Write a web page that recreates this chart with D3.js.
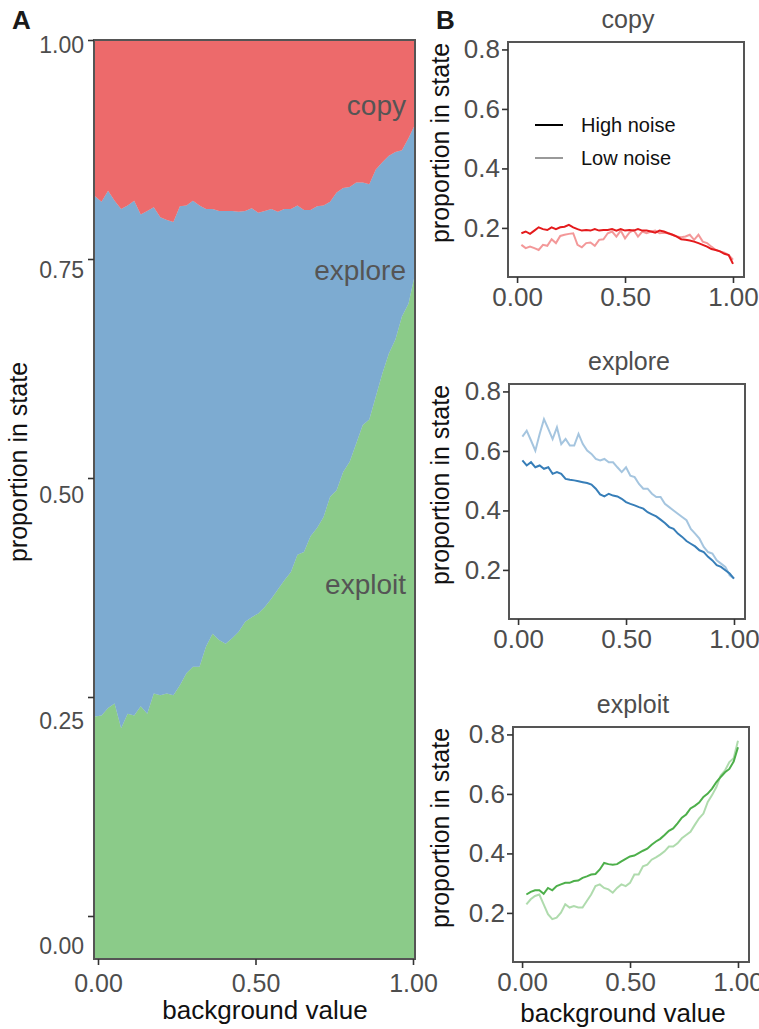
<!DOCTYPE html>
<html>
<head>
<meta charset="utf-8">
<script src="https://cdnjs.cloudflare.com/ajax/libs/d3/7.8.5/d3.min.js"></script>
<style>
    body { margin: 0; background: #fff; }
    svg { display: block; font-family: 'Liberation Sans', Arial, Helvetica, sans-serif; }
    .tick text { fill: #4d4d4d; }
    .tick line { stroke: #333; stroke-width: 1.6; }
</style>
</head>
<body>
<div class="visHolder"></div>
<script>
var bgValue = [0.02, 0.04, 0.06, 0.08, 0.10, 0.12, 0.14, 0.16, 0.18, 0.20,
    0.22, 0.24, 0.26, 0.28, 0.30, 0.32, 0.34, 0.36, 0.38, 0.40,
    0.42, 0.44, 0.46, 0.48, 0.50, 0.52, 0.54, 0.56, 0.58, 0.60,
    0.62, 0.64, 0.66, 0.68, 0.70, 0.72, 0.74, 0.76, 0.78, 0.80,
    0.82, 0.84, 0.86, 0.88, 0.90, 0.92, 0.94, 0.96, 0.98, 1.00];

// panel A: share of agents in each state
var fillCopy = [0.170, 0.176, 0.164, 0.175, 0.184, 0.180, 0.175, 0.190, 0.186, 0.182,
    0.193, 0.196, 0.198, 0.181, 0.180, 0.175, 0.180, 0.184, 0.184, 0.186,
    0.186, 0.186, 0.187, 0.186, 0.183, 0.188, 0.186, 0.184, 0.187, 0.184,
    0.184, 0.180, 0.185, 0.185, 0.181, 0.180, 0.176, 0.166, 0.161, 0.160,
    0.155, 0.155, 0.157, 0.141, 0.133, 0.126, 0.122, 0.120, 0.107, 0.092];
var fillExplore = [0.566, 0.559, 0.563, 0.547, 0.565, 0.553, 0.560, 0.535, 0.547, 0.529,
    0.520, 0.515, 0.515, 0.521, 0.509, 0.507, 0.502, 0.476, 0.462, 0.467,
    0.471, 0.465, 0.457, 0.447, 0.445, 0.436, 0.431, 0.424, 0.411, 0.404,
    0.395, 0.380, 0.372, 0.355, 0.350, 0.339, 0.321, 0.324, 0.309, 0.299,
    0.284, 0.264, 0.256, 0.247, 0.230, 0.215, 0.204, 0.181, 0.180, 0.163];
var fillExploit = [0.264, 0.265, 0.273, 0.278, 0.251, 0.267, 0.265, 0.275, 0.267, 0.289,
    0.287, 0.289, 0.287, 0.298, 0.311, 0.318, 0.318, 0.340, 0.354, 0.347,
    0.343, 0.349, 0.356, 0.367, 0.372, 0.376, 0.383, 0.392, 0.402, 0.412,
    0.421, 0.440, 0.443, 0.460, 0.469, 0.481, 0.503, 0.510, 0.530, 0.541,
    0.561, 0.581, 0.587, 0.612, 0.637, 0.659, 0.674, 0.699, 0.713, 0.745];

// panel B: high vs low noise
var highCopy = [0.182, 0.188, 0.180, 0.191, 0.202, 0.196, 0.193, 0.202, 0.196, 0.202,
    0.204, 0.210, 0.202, 0.196, 0.191, 0.193, 0.191, 0.196, 0.191, 0.193,
    0.193, 0.196, 0.191, 0.196, 0.191, 0.193, 0.191, 0.196, 0.191, 0.191,
    0.188, 0.184, 0.191, 0.188, 0.182, 0.177, 0.171, 0.162, 0.160, 0.158,
    0.154, 0.149, 0.143, 0.137, 0.129, 0.126, 0.121, 0.113, 0.109, 0.079];
var lowCopy = [0.143, 0.132, 0.137, 0.132, 0.126, 0.143, 0.140, 0.162, 0.149, 0.173,
    0.177, 0.180, 0.182, 0.143, 0.135, 0.149, 0.151, 0.140, 0.160, 0.162,
    0.182, 0.188, 0.171, 0.191, 0.165, 0.184, 0.193, 0.171, 0.188, 0.182,
    0.188, 0.191, 0.182, 0.184, 0.182, 0.177, 0.171, 0.169, 0.171, 0.177,
    0.160, 0.177, 0.154, 0.149, 0.137, 0.126, 0.121, 0.117, 0.109, 0.093];
var highExplore = [0.568, 0.551, 0.562, 0.545, 0.551, 0.540, 0.545, 0.523, 0.529, 0.523,
    0.506, 0.503, 0.501, 0.498, 0.495, 0.492, 0.487, 0.473, 0.454, 0.447,
    0.456, 0.450, 0.447, 0.439, 0.428, 0.422, 0.417, 0.411, 0.406, 0.394,
    0.387, 0.380, 0.369, 0.358, 0.344, 0.338, 0.322, 0.311, 0.297, 0.288,
    0.279, 0.266, 0.260, 0.244, 0.232, 0.216, 0.210, 0.199, 0.188, 0.171];
var lowExplore = [0.648, 0.668, 0.635, 0.601, 0.657, 0.707, 0.674, 0.640, 0.679, 0.623,
    0.640, 0.618, 0.618, 0.657, 0.623, 0.601, 0.590, 0.573, 0.568, 0.573,
    0.562, 0.562, 0.545, 0.529, 0.545, 0.517, 0.512, 0.489, 0.473, 0.473,
    0.456, 0.445, 0.445, 0.422, 0.411, 0.400, 0.389, 0.378, 0.367, 0.338,
    0.322, 0.305, 0.277, 0.260, 0.255, 0.232, 0.221, 0.210, 0.182, 0.171];
var highExploit = [0.262, 0.271, 0.276, 0.276, 0.264, 0.284, 0.276, 0.290, 0.296, 0.301,
    0.301, 0.307, 0.309, 0.318, 0.323, 0.329, 0.331, 0.346, 0.368, 0.364,
    0.362, 0.364, 0.373, 0.382, 0.390, 0.393, 0.401, 0.409, 0.416, 0.429,
    0.440, 0.449, 0.462, 0.476, 0.484, 0.501, 0.520, 0.531, 0.551, 0.560,
    0.571, 0.590, 0.601, 0.618, 0.640, 0.657, 0.673, 0.684, 0.709, 0.757];
var lowExploit = [0.229, 0.246, 0.257, 0.262, 0.229, 0.196, 0.179, 0.184, 0.201, 0.229,
    0.218, 0.223, 0.218, 0.218, 0.240, 0.262, 0.290, 0.296, 0.284, 0.279,
    0.268, 0.284, 0.296, 0.290, 0.301, 0.329, 0.329, 0.357, 0.362, 0.379,
    0.387, 0.396, 0.407, 0.423, 0.423, 0.434, 0.451, 0.462, 0.473, 0.496,
    0.518, 0.534, 0.573, 0.596, 0.623, 0.662, 0.679, 0.707, 0.720, 0.779];

var states = ['copy', 'explore', 'exploit'];
var noiseLevels = ['High noise', 'Low noise'];
var bgTicks = [0, 0.5, 1];
var fillTicks = [0, 0.25, 0.5, 0.75, 1];
var propTicks = [0.2, 0.4, 0.6, 0.8];

var width = 759,
    height = 1029;

var stateColor = {
    copy: d3.schemeSet1[0],
    explore: d3.schemeSet1[1],
    exploit: d3.schemeSet1[2]
};

var svg = d3
    .select('.visHolder')
    .append('svg')
    .attr('width', width)
    .attr('height', height);

/* ---------- panel A ---------- */
var boxA = { left: 94, right: 415, top: 40, bottom: 959 };

var xArea = d3.scaleLinear().domain([bgValue[0], bgValue[bgValue.length - 1]]).range([boxA.left + 1, boxA.right]);
var yArea = d3.scaleLinear().domain([0, 1]).range([boxA.bottom, boxA.top]);
// tick marks and labels of this panel sit on slightly different spacings in the figure
var xTickA = d3.scaleLinear().domain([0, 1]).range([98, 413]);
var yTickA = d3.scaleLinear().domain([0, 1]).range([916, 40]);
var yLabelA = d3.scaleLinear().domain([0, 1]).range([946, 45]);

var fillRows = bgValue.map(function (x, i) {
    return { x: x, copy: fillCopy[i], explore: fillExplore[i], exploit: fillExploit[i] };
});

var stacked = d3.stack().keys(['exploit', 'explore', 'copy'])(fillRows);

var area = d3
    .area()
    .x(function (d) { return xArea(d.data.x); })
    .y0(function (d) { return yArea(d[0]); })
    .y1(function (d) { return yArea(d[1]); });

svg.append('g')
    .selectAll('path')
    .data(stacked)
    .enter()
    .append('path')
    .attr('d', area)
    .attr('fill', function (d) { return stateColor[d.key]; })
    .attr('fill-opacity', 0.65);

var areaLabelY = { copy: 0.918, explore: 0.739, exploit: 0.397 };

svg.append('g')
    .selectAll('text')
    .data(states)
    .enter()
    .append('text')
    .attr('x', 406)
    .attr('y', function (d) { return yArea(areaLabelY[d]); })
    .attr('text-anchor', 'end')
    .style('font-size', '28px')
    .style('fill', '#555')
    .text(function (d) { return d; });

svg.append('rect')
    .attr('x', boxA.left)
    .attr('y', boxA.top)
    .attr('width', boxA.right - boxA.left)
    .attr('height', boxA.bottom - boxA.top)
    .attr('fill', 'none')
    .attr('stroke', '#555')
    .attr('stroke-width', 2);

svg.append('g')
    .attr('transform', 'translate(' + boxA.left + ',0)')
    .call(d3.axisLeft(yTickA).tickValues(fillTicks).tickFormat(d3.format('.2f')).tickSize(6).tickPadding(4))
    .call(function (g) { g.select('.domain').remove(); })
    .call(function (g) {
        g.selectAll('text')
            .attr('y', function (d) { return yLabelA(d) - yTickA(d); })
            .style('font-size', '23px');
    });

svg.append('g')
    .attr('transform', 'translate(0,' + boxA.bottom + ')')
    .call(d3.axisBottom(xTickA).tickValues(bgTicks).tickFormat(d3.format('.2f')).tickSize(6).tickPadding(9))
    .call(function (g) { g.select('.domain').remove(); })
    .call(function (g) { g.selectAll('text').style('font-size', '25px'); });

svg.append('text')
    .attr('x', 265)
    .attr('y', 1019)
    .attr('text-anchor', 'middle')
    .style('font-size', '26px')
    .style('fill', '#111')
    .text('background value');

svg.append('text')
    .attr('transform', 'translate(21,462) rotate(-90)')
    .attr('dy', '0.25em')
    .attr('text-anchor', 'middle')
    .style('font-size', '25px')
    .style('fill', '#111')
    .text('proportion in state');

svg.append('text')
    .attr('x', 12)
    .attr('y', 29)
    .style('font-size', '26px')
    .style('font-weight', 'bold')
    .style('fill', '#1a1a1a')
    .text('A');

/* ---------- panel B ---------- */
var boxW = 236,
    boxH = 235;

var panelsB = [
    { state: 'copy', left: 508, top: 42, high: highCopy, low: lowCopy },
    { state: 'explore', left: 509, top: 384, high: highExplore, low: lowExplore },
    { state: 'exploit', left: 513, top: 727, high: highExploit, low: lowExploit }
];

panelsB.forEach(function (p, k) {
    var x = d3.scaleLinear().domain([-0.042, 1.051]).range([p.left, p.left + boxW]);
    var y = d3.scaleLinear().domain([0.035, 0.825]).range([p.top + boxH, p.top]);

    var line = d3
        .line()
        .x(function (d, i) { return x(bgValue[i]); })
        .y(function (d) { return y(d); });

    var g = svg.append('g');

    g.append('path')
        .datum(p.high)
        .attr('d', line)
        .attr('fill', 'none')
        .attr('stroke', stateColor[p.state])
        .attr('stroke-width', 2);

    g.append('path')
        .datum(p.low)
        .attr('d', line)
        .attr('fill', 'none')
        .attr('stroke', stateColor[p.state])
        .attr('stroke-opacity', 0.45)
        .attr('stroke-width', 2);

    g.append('rect')
        .attr('x', p.left)
        .attr('y', p.top)
        .attr('width', boxW)
        .attr('height', boxH)
        .attr('fill', 'none')
        .attr('stroke', '#555')
        .attr('stroke-width', 2);

    g.append('g')
        .attr('transform', 'translate(' + p.left + ',0)')
        .call(d3.axisLeft(y).tickValues(propTicks).tickFormat(d3.format('.1f')).tickSize(6).tickPadding(2))
        .call(function (a) { a.select('.domain').remove(); })
        .call(function (a) { a.selectAll('text').style('font-size', '26px'); });

    g.append('g')
        .attr('transform', 'translate(0,' + (p.top + boxH) + ')')
        .call(d3.axisBottom(x).tickValues(bgTicks).tickFormat(d3.format('.2f')).tickSize(6).tickPadding(5))
        .call(function (a) { a.select('.domain').remove(); })
        .call(function (a) { a.selectAll('text').style('font-size', '26px'); });

    g.append('text')
        .attr('x', p.left + boxW / 2 + 2)
        .attr('y', p.top - 14)
        .attr('text-anchor', 'middle')
        .style('font-size', '25px')
        .style('fill', '#4d4d4d')
        .text(p.state);

    g.append('text')
        .attr('transform', 'translate(443,' + (p.top + 101) + ') rotate(-90)')
        .attr('dy', '0.25em')
        .attr('text-anchor', 'middle')
        .style('font-size', '25px')
        .style('fill', '#111')
        .text('proportion in state');

    if (k === panelsB.length - 1) {
        g.append('text')
            .attr('x', 623)
            .attr('y', 1022)
            .attr('text-anchor', 'middle')
            .style('font-size', '26px')
            .style('fill', '#111')
            .text('background value');
    }
});

// legend inside the copy panel
var legend = svg
    .append('g')
    .selectAll('g')
    .data(noiseLevels)
    .enter()
    .append('g')
    .attr('transform', function (d, i) { return 'translate(535,' + (125 + i * 33) + ')'; });

legend.append('line')
    .attr('x1', 0)
    .attr('x2', 28)
    .attr('stroke', '#000')
    .attr('stroke-opacity', function (d, i) { return i === 0 ? 1 : 0.4; })
    .attr('stroke-width', 2);

legend.append('text')
    .attr('x', 46)
    .attr('dy', '0.35em')
    .style('font-size', '20px')
    .style('fill', '#111')
    .text(function (d) { return d; });

svg.append('text')
    .attr('x', 436)
    .attr('y', 29)
    .style('font-size', '26px')
    .style('font-weight', 'bold')
    .style('fill', '#1a1a1a')
    .text('B');
</script>
</body>
</html>
